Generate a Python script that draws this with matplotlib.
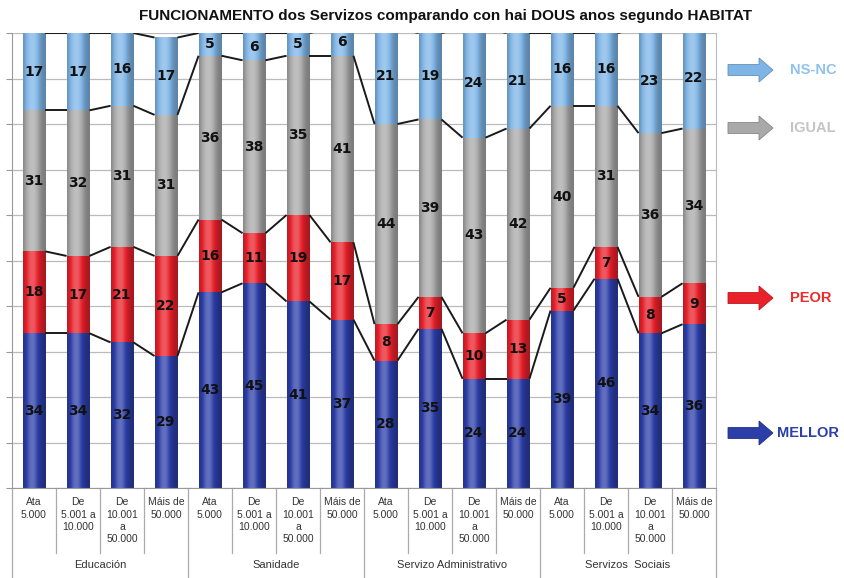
import numpy as np
import matplotlib
matplotlib.use("Agg")
import matplotlib.pyplot as plt
from matplotlib.patches import FancyArrow

plt.rcParams['font.family'] = ['Liberation Sans', 'DejaVu Sans']

groups = ["Educación", "Sanidade", "Servizo Administrativo", "Servizos  Sociais"]
habitat = ["Ata\n5.000", "De\n5.001 a\n10.000", "De\n10.001\na\n50.000", "Máis de\n50.000"]
series_names = ["MELLOR", "PEOR", "IGUAL", "NS-NC"]
mellor = [34, 34, 32, 29, 43, 45, 41, 37, 28, 35, 24, 24, 39, 46, 34, 36]
peor = [18, 17, 21, 22, 16, 11, 19, 17, 8, 7, 10, 13, 5, 7, 8, 9]
igual = [31, 32, 31, 31, 36, 38, 35, 41, 44, 39, 43, 42, 40, 31, 36, 34]
nsnc = [17, 17, 16, 17, 5, 6, 5, 6, 21, 19, 24, 21, 16, 16, 23, 22]

series = [mellor, peor, igual, nsnc]
base_cols = ["#2c3ea8", "#e8212b", "#a9a9a9", "#7fb5e6"]
text_cols = ["#2c3ea8", "#ee2a2a", "#c4c4c4", "#8fc3ee"]

fig = plt.figure(figsize=(8.44, 5.78), dpi=100)
ax = fig.add_axes([12/844, 90/578, (716-12)/844, (488-33)/578])

n = len(mellor)
x = np.arange(n)
w = 0.52

def shade(c, f):
    rgb = np.array(matplotlib.colors.to_rgb(c))
    if f >= 1:
        return rgb + (1 - rgb) * (f - 1)
    return rgb * f

prof = np.linspace(0, 1, 64)
fac = 0.72 + 0.55 * np.exp(-((prof - 0.4) / 0.3) ** 2)
fac = np.clip(fac, 0, 1.25)

bottom = np.zeros(n)
tops = []
for vals, col in zip(series, base_cols):
    vals = np.array(vals, float)
    grad = np.array([shade(col, f) for f in fac])
    grad = np.clip(grad, 0, 1)[None, :, :]
    for i in range(n):
        ax.imshow(grad, extent=(x[i]-w/2, x[i]+w/2, bottom[i], bottom[i]+vals[i]),
                  aspect="auto", zorder=2, interpolation="bilinear")
        ax.text(x[i], bottom[i]+vals[i]/2, f"{int(vals[i])}", ha="center", va="center",
                fontsize=10, fontweight="bold", color="#111111", zorder=4,
                family="DejaVu Sans")
    bottom = bottom + vals
    tops.append(bottom.copy())

for t in tops:
    for i in range(n-1):
        ax.plot([x[i]+w/2, x[i+1]-w/2], [t[i], t[i+1]], color="#1a1a1a", lw=1.4, zorder=3,
                solid_capstyle="butt")

ax.set_xlim(-0.5, n-0.5)
ax.set_ylim(0, 100)
ax.set_yticks(np.arange(0, 101, 10))
ax.set_yticklabels([])
ax.tick_params(axis="y", length=4, color="#999999", direction="out")
ax.grid(axis="y", color="#bbbbbb", lw=0.9, zorder=0)
ax.set_xticks([])
ax.spines["top"].set_visible(False)
ax.spines["left"].set_color("#999999")
ax.spines["right"].set_color("#bbbbbb")
ax.spines["bottom"].set_color("#999999")

trans = ax.get_xaxis_transform()
for i in range(n):
    ax.text(x[i], -0.02, habitat[i % 4], transform=trans, ha="center", va="top",
            fontsize=7.5, color="#333333", linespacing=1.3)
for i in range(n+1):
    xb = i - 0.5
    frac = -0.2 if i % 4 == 0 else -0.143
    ax.plot([xb, xb], [0, frac], transform=trans, color="#aaaaaa", lw=0.9, clip_on=False)
for g, name in enumerate(groups):
    ax.text(g*4 + 1.5, -0.17, name, transform=trans, ha="center", va="center",
            fontsize=8, color="#333333")

fig.text(446/844, 1-16/578, "FUNCIONAMENTO dos Servizos comparando con hai DOUS anos segundo HABITAT",
         ha="center", va="center", fontsize=11, fontweight="bold", color="#111111")

leg_y = {"NS-NC": 70, "IGUAL": 128, "PEOR": 298, "MELLOR": 433}
for name, col, tcol in zip(series_names, base_cols, text_cols):
    yy = 1 - leg_y[name]/578
    arr = FancyArrow(728/844, yy, 45/844, 0, width=11/578, head_width=24/578,
                     head_length=14/844, length_includes_head=True,
                     transform=fig.transFigure, color=col, ec=shade(col, 0.8), lw=0.6)
    fig.add_artist(arr)
    fig.text(790/844 if name != "MELLOR" else 777/844, yy, name, ha="left", va="center",
             fontsize=10.5, fontweight="bold", color=tcol)

fig.savefig("out.png", dpi=100)
